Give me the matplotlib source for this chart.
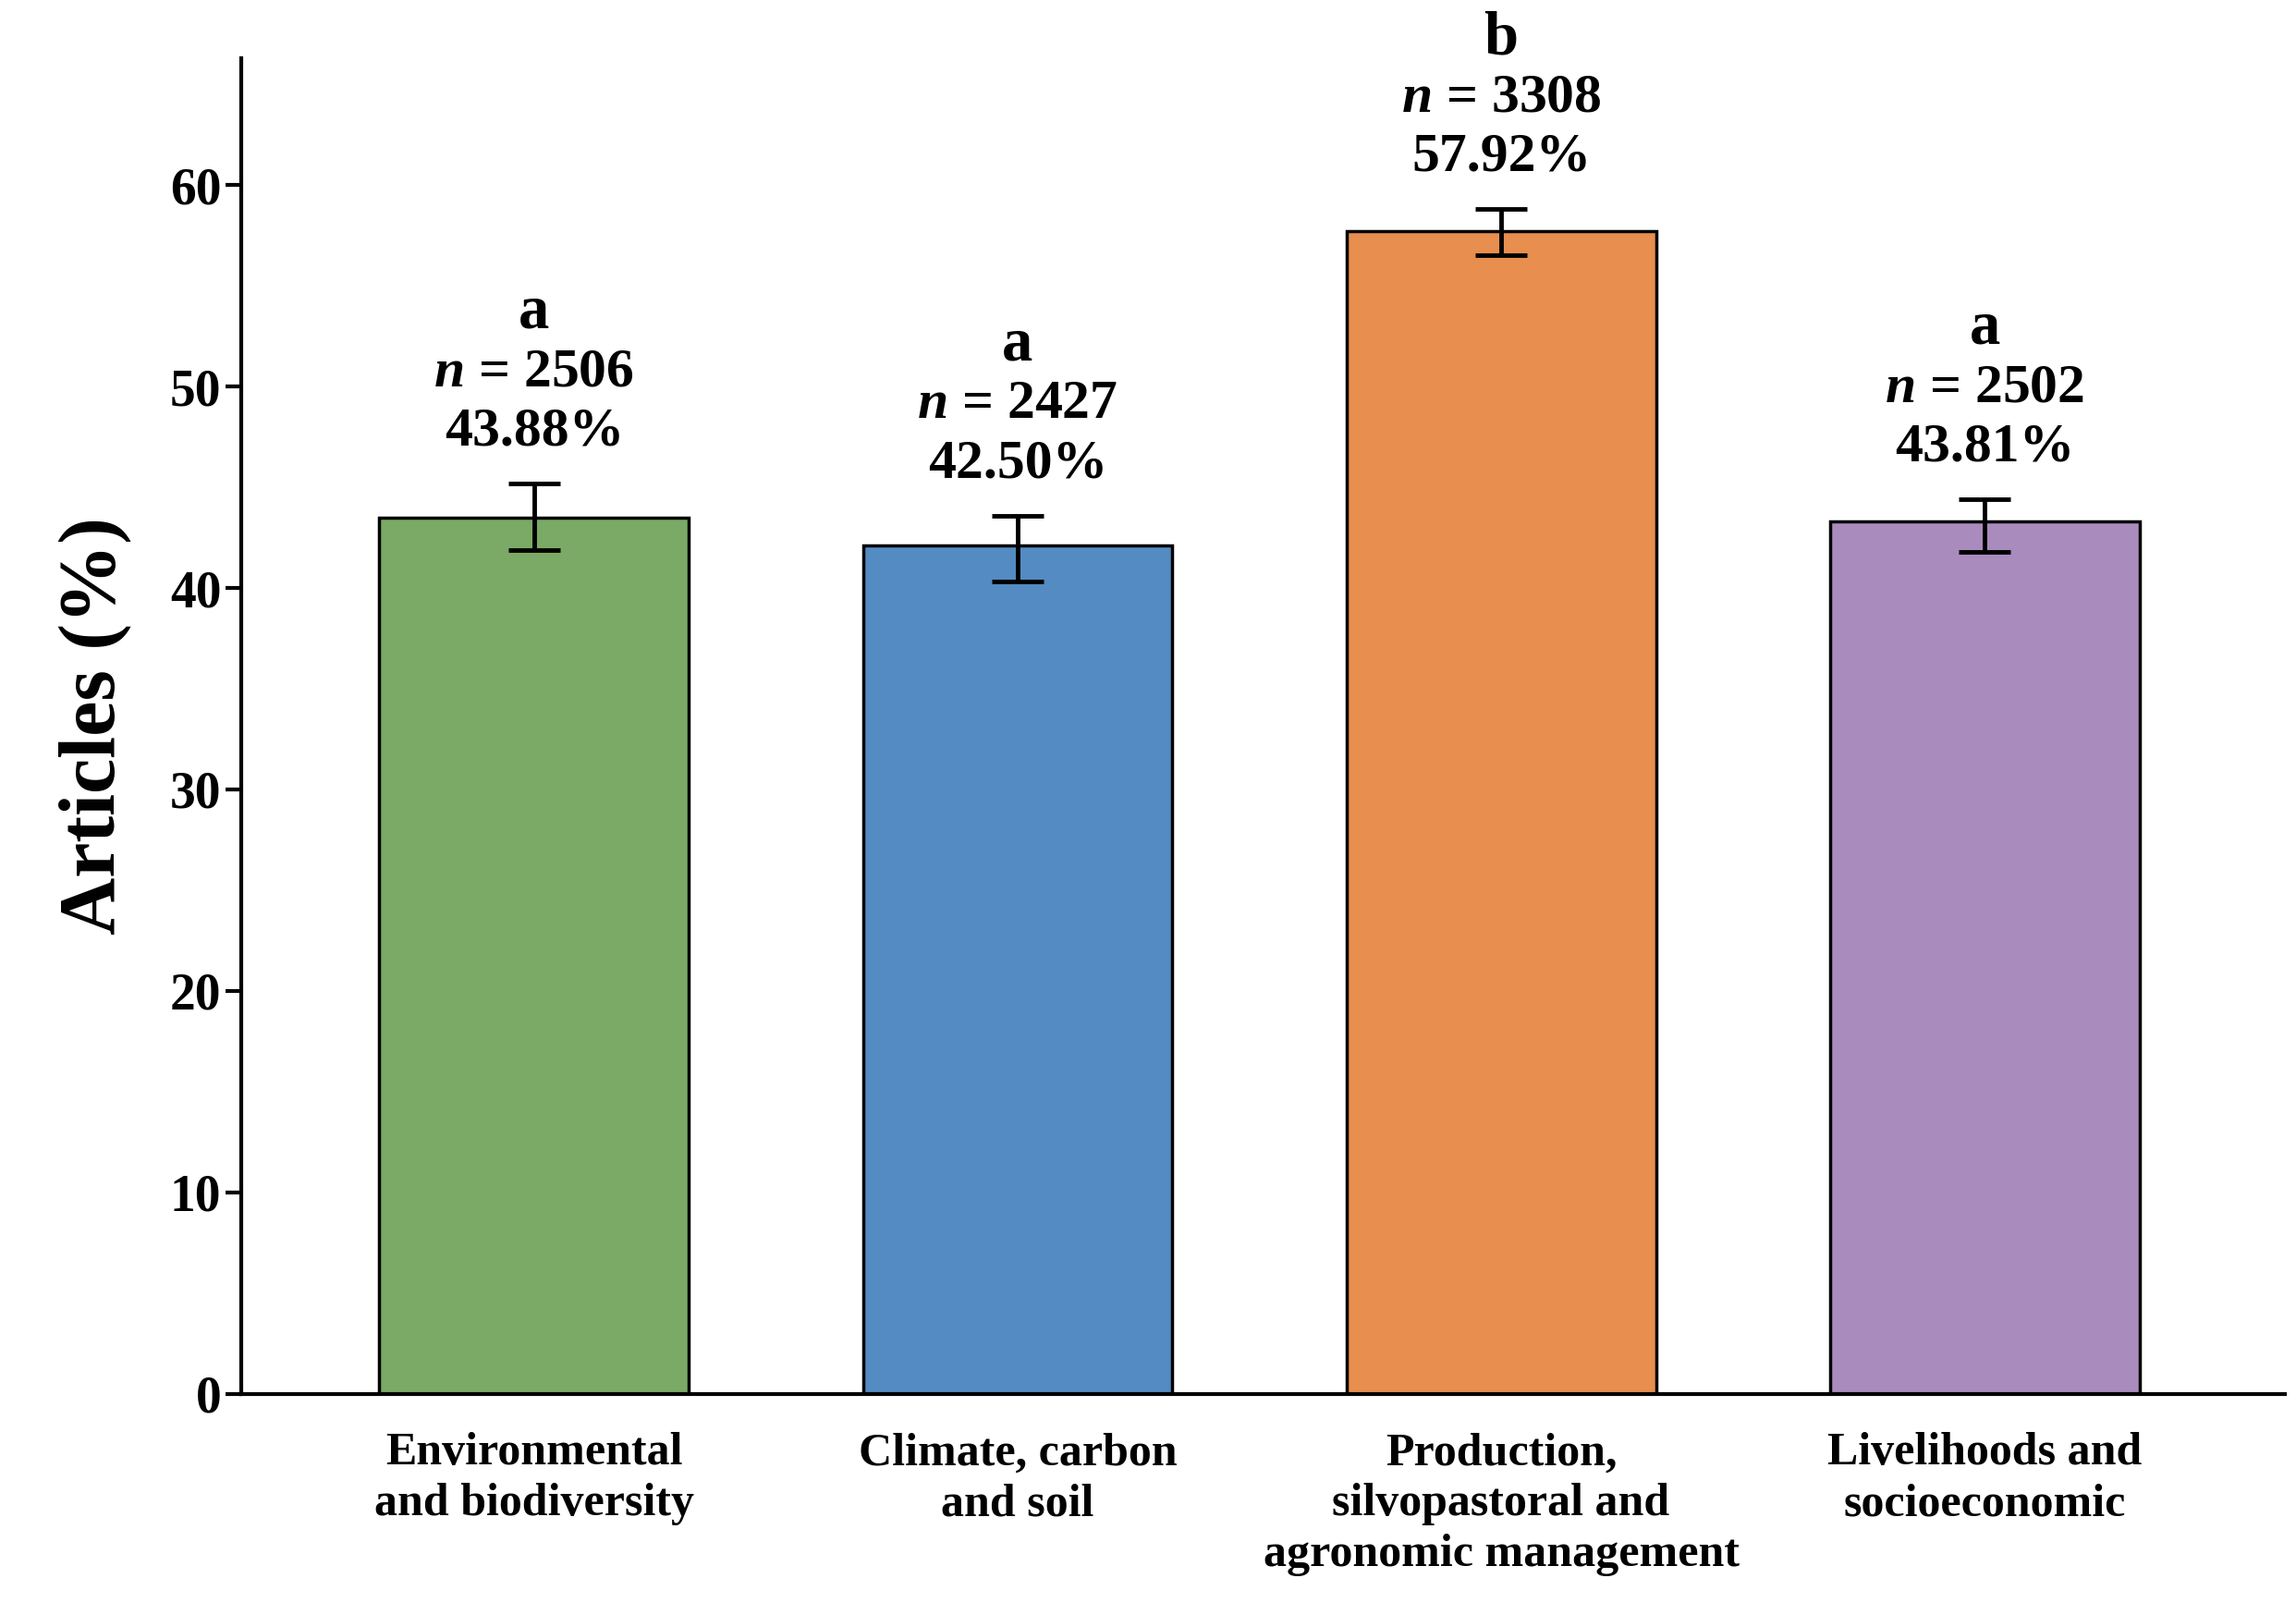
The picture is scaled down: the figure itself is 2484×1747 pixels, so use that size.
import numpy as np
import matplotlib.pyplot as plt

plt.rcParams['font.family'] = ['Liberation Serif', 'DejaVu Serif']
plt.rcParams['font.weight'] = 'bold'
plt.rcParams['mathtext.fontset'] = 'custom'
plt.rcParams['mathtext.it'] = 'Liberation Serif:italic:bold'

cats = ['Environmental\nand biodiversity', 'Climate, carbon\nand soil',
        'Production,\nsilvopastoral and\nagronomic management', 'Livelihoods and\nsocioeconomic']
vals = [43.5, 42.1, 57.7, 43.3]
err_low = [41.9, 40.3, 56.5, 41.8]
err_high = [45.2, 43.6, 58.8, 44.4]
n = [2506, 2427, 3308, 2502]
pct = ['43.88%', '42.50%', '57.92%', '43.81%']
letters = ['a', 'a', 'b', 'a']
colors = ['#7aaa65', '#538bc2', '#e88e4e', '#a98bbd']

fig = plt.figure(figsize=(24.84, 17.47), dpi=100)
ax = fig.add_axes([0.105, 0.137, 0.89, 0.827])
x = np.arange(len(cats))
yerr = [np.array(vals) - np.array(err_low), np.array(err_high) - np.array(vals)]
ax.bar(x, vals, width=0.64, color=colors, edgecolor='black', linewidth=2.5)
ax.errorbar(x, vals, yerr=yerr, fmt='none', ecolor='black', elinewidth=3.5,
            capsize=20, capthick=3.5)

for i in x:
    top = err_high[i]
    ax.annotate(pct[i], (i, top), xytext=(0, 40), textcoords='offset points',
                ha='center', va='center', fontsize=43, fontweight='bold')
    ax.annotate(r'$\mathit{n}$ = %d' % n[i], (i, top), xytext=(0, 86),
                textcoords='offset points', ha='center', va='center', fontsize=43,
                fontweight='bold')
    ax.annotate(letters[i], (i, top), xytext=(0, 133), textcoords='offset points',
                ha='center', va='center', fontsize=48, fontweight='bold')

ax.set_xlim(-0.606, 3.62)
ax.set_ylim(0, 66.3)
ax.set_yticks(range(0, 61, 10))
ax.set_xticks(x)
ax.set_xticklabels(cats, fontsize=36, fontweight='bold', linespacing=1.25)
ax.tick_params(axis='x', length=0, pad=30)
ax.tick_params(axis='y', labelsize=40, width=3, length=12)
for s in ['top', 'right']:
    ax.spines[s].set_visible(False)
for s in ['left', 'bottom']:
    ax.spines[s].set_linewidth(3)
ax.set_ylabel('Articles (%)', fontsize=62, fontweight='bold', labelpad=30)

plt.savefig('out.png', dpi=100)
